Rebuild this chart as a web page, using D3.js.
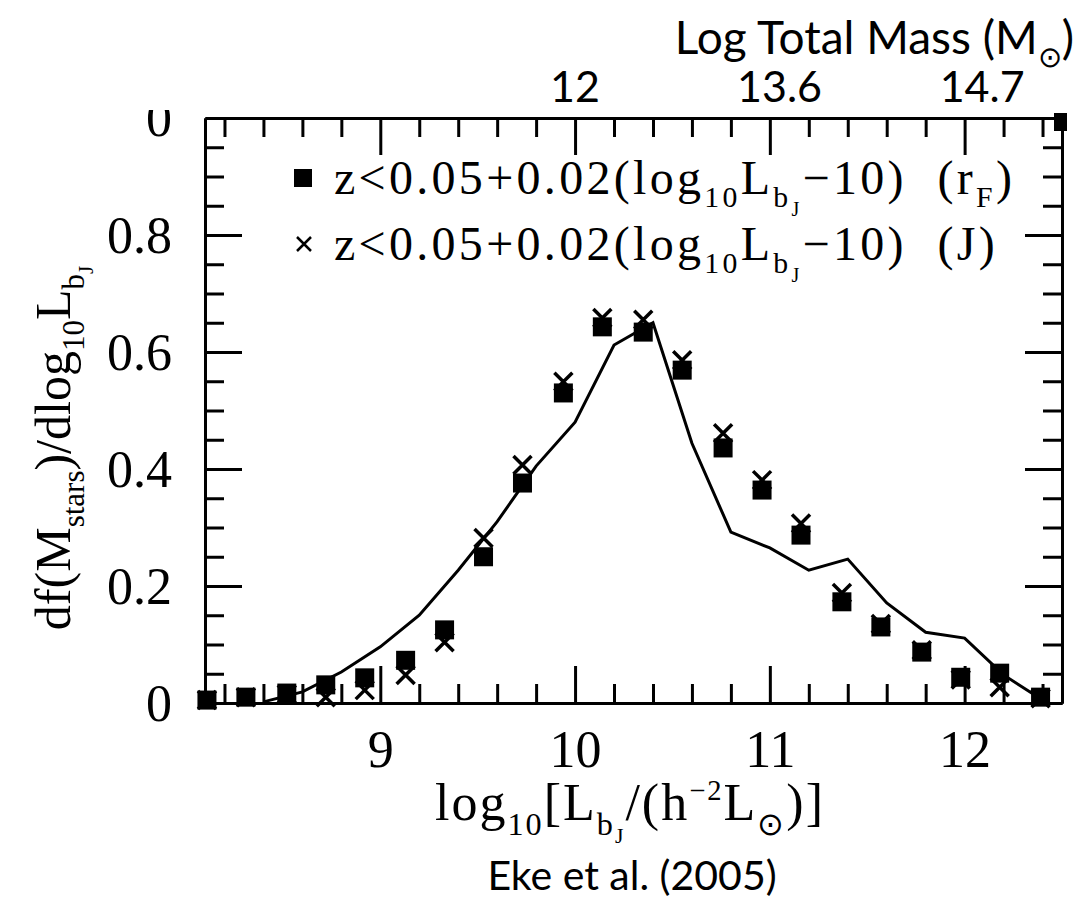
<!DOCTYPE html>
<html>
<head>
<meta charset="utf-8">
<script src="https://cdn.jsdelivr.net/npm/d3@7"></script>
<style>
  body { margin: 0; background: #fff; }
  svg { display: block; }
  .axis path, .axis line { stroke: #000; stroke-width: 3; }
  .axis text { font-family: "Liberation Serif", serif; font-size: 52px; fill: #000; }
</style>
</head>
<body>
<svg id="chart" width="1086" height="902"></svg>
<script>
// luminosity bins (log10 L_bJ) of the measured points
var lumBins = [8.11, 8.31, 8.52, 8.72, 8.92, 9.13, 9.33, 9.53, 9.73, 9.94, 10.14,
               10.35, 10.55, 10.76, 10.96, 11.16, 11.37, 11.57, 11.78, 11.98, 12.18, 12.39];
// z < 0.05+0.02(log L - 10), r_F magnitudes (filled squares)
var rfValues = [0.005, 0.010, 0.017, 0.031, 0.043, 0.073, 0.125, 0.250, 0.376, 0.530, 0.643,
                0.634, 0.569, 0.436, 0.364, 0.287, 0.173, 0.130, 0.087, 0.044, 0.051, 0.010];
// same cut, J magnitudes (crosses)
var jValues = [0.005, 0.010, 0.015, 0.010, 0.022, 0.048, 0.104, 0.282, 0.407, 0.549, 0.658,
               0.655, 0.586, 0.461, 0.381, 0.307, 0.188, 0.135, 0.090, 0.040, 0.027, 0.008];
// model curve
var modelLum = [8.4, 8.6, 8.8, 9.0, 9.2, 9.4, 9.6, 9.8, 10.0, 10.2, 10.4,
                10.6, 10.8, 11.0, 11.2, 11.4, 11.6, 11.8, 12.0, 12.2, 12.4];
var modelValues = [0.002, 0.019, 0.053, 0.096, 0.150, 0.227, 0.310, 0.405, 0.480, 0.612, 0.650,
                   0.444, 0.292, 0.265, 0.227, 0.246, 0.171, 0.121, 0.111, 0.048, 0.005];

var xMajorTicks = [9, 10, 11, 12];
var yMajorTicks = [0, 0.2, 0.4, 0.6, 0.8];
// halo mass labels on the top axis, placed at luminosity
var massLabels = ["12", "13.6", "14.7"];
var massAtLum = [10.0, 11.05, 12.09];

var svg = d3.select("#chart");

var x = d3.scaleLinear().domain([8.1, 12.5]).range([205, 1062]);
var y = d3.scaleLinear().domain([0, 1]).range([703, 118]);

var xMinor = d3.range(8.2, 12.45, 0.2).filter(function(v) {
    return Math.abs(v - Math.round(v)) > 0.01;
});
var yMinor = d3.range(0.05, 1.0, 0.05).filter(function(v) {
    return Math.abs(v * 5 - Math.round(v * 5)) > 0.01;
});

function fmtY(d) { return d === 0 ? "0" : d3.format(".1f")(d); }

// bottom
svg.append("g").attr("class", "axis").attr("transform", "translate(0," + y(0) + ")")
    .call(d3.axisBottom(x).tickValues(xMajorTicks).tickSizeInner(-37).tickSizeOuter(0).tickPadding(30).tickFormat(d3.format("d")));
svg.append("g").attr("class", "axis").attr("transform", "translate(0," + y(0) + ")")
    .call(d3.axisBottom(x).tickValues(xMinor).tickSizeInner(-19).tickSizeOuter(0).tickFormat(""));
// top
svg.append("g").attr("class", "axis").attr("transform", "translate(0," + y(1) + ")")
    .call(d3.axisTop(x).tickValues(xMajorTicks).tickSizeInner(-37).tickSizeOuter(0).tickFormat(""));
svg.append("g").attr("class", "axis").attr("transform", "translate(0," + y(1) + ")")
    .call(d3.axisTop(x).tickValues(xMinor).tickSizeInner(-19).tickSizeOuter(0).tickFormat(""));
// left
svg.append("g").attr("class", "axis").attr("transform", "translate(" + x(8.1) + ",0)")
    .call(d3.axisLeft(y).tickValues(yMajorTicks).tickSizeInner(-37).tickSizeOuter(0).tickPadding(33).tickFormat(fmtY));
svg.append("g").attr("class", "axis").attr("transform", "translate(" + x(8.1) + ",0)")
    .call(d3.axisLeft(y).tickValues(yMinor).tickSizeInner(-19).tickSizeOuter(0).tickFormat(""));
// right
svg.append("g").attr("class", "axis").attr("transform", "translate(" + x(12.5) + ",0)")
    .call(d3.axisRight(y).tickValues(yMajorTicks).tickSizeInner(-37).tickSizeOuter(0).tickFormat(""));
svg.append("g").attr("class", "axis").attr("transform", "translate(" + x(12.5) + ",0)")
    .call(d3.axisRight(y).tickValues(yMinor).tickSizeInner(-19).tickSizeOuter(0).tickFormat(""));

svg.selectAll(".axis text").attr("dy", null).attr("dominant-baseline", "central");
svg.selectAll(".axis .tick text").filter(function() { return this.textContent !== ""; })
    .each(function() {
        var t = d3.select(this);
        if (t.attr("y") !== null && +t.attr("y") > 0) t.attr("dominant-baseline", null).attr("y", 64);
    });

// model line
svg.append("path")
    .datum(modelLum.map(function(d, i) { return [d, modelValues[i]]; }))
    .attr("fill", "none").attr("stroke", "#000").attr("stroke-width", 3)
    .attr("stroke-linejoin", "miter")
    .attr("d", d3.line().x(function(d) { return x(d[0]); }).y(function(d) { return y(d[1]); }));

// crosses (J)
var cs = 9;
svg.append("g").selectAll("path").data(lumBins).enter().append("path")
    .attr("d", function(d, i) {
        var cx = x(d), cy = y(jValues[i]);
        return "M" + (cx - cs) + "," + (cy - cs) + "L" + (cx + cs) + "," + (cy + cs) +
               "M" + (cx - cs) + "," + (cy + cs) + "L" + (cx + cs) + "," + (cy - cs);
    })
    .attr("stroke", "#000").attr("stroke-width", 3.5).attr("fill", "none");

// squares (r_F)
var sq = 19;
svg.append("g").selectAll("rect").data(lumBins).enter().append("rect")
    .attr("x", function(d) { return x(d) - sq / 2; })
    .attr("y", function(d, i) { return y(rfValues[i]) - sq / 2; })
    .attr("width", sq).attr("height", sq).attr("fill", "#000");

// text with sub/superscripts
function richText(sel, parts, size) {
    var shift = 0;
    parts.forEach(function(p) {
        var lvl = p.sub || 0, sup = p.sup || 0;
        var target = lvl === 1 ? size * 0.28 : lvl === 2 ? size * 0.45 : sup ? -size * 0.38 : 0;
        var fs = lvl === 1 ? size * 0.62 : lvl === 2 ? size * 0.42 : sup ? size * 0.55 : size;
        sel.append("tspan").attr("dy", target - shift).style("font-size", fs + "px").text(p.t);
        shift = target;
    });
}

var serif = '"Liberation Serif", serif';

// legend
var legendRows = [
    { sym: "square", parts: [{t: "z<0.05+0.02(log"}, {t: "10", sub: 1}, {t: "L"}, {t: "b", sub: 1}, {t: "J", sub: 2},
                              {t: "\u221210)\u00a0\u00a0(r"}, {t: "F", sub: 1}, {t: ")"}] },
    { sym: "cross", parts: [{t: "z<0.05+0.02(log"}, {t: "10", sub: 1}, {t: "L"}, {t: "b", sub: 1}, {t: "J", sub: 2},
                             {t: "\u221210)\u00a0\u00a0(J)"}] }
];
legendRows.forEach(function(row, i) {
    var ly = 178 + i * 66;
    if (row.sym === "square") {
        svg.append("rect").attr("x", 294).attr("y", ly - 9).attr("width", 18).attr("height", 18).attr("fill", "#000");
    } else {
        svg.append("path").attr("d", "M297," + (ly - 7) + "L311," + (ly + 7) + "M297," + (ly + 7) + "L311," + (ly - 7))
            .attr("stroke", "#000").attr("stroke-width", 2.5);
    }
    var t = svg.append("text").attr("x", 334).attr("y", ly + 16)
        .style("font-family", serif).style("font-size", "48px").style("letter-spacing", "3.3px");
    richText(t, row.parts, 48);
});

// x title
var xt = svg.append("text").attr("x", 630).attr("y", 820).attr("text-anchor", "middle")
    .style("font-family", serif).style("font-size", "52px").style("letter-spacing", "2px");
richText(xt, [{t: "log"}, {t: "10", sub: 1}, {t: "[L"}, {t: "b", sub: 1}, {t: "J", sub: 2}, {t: "/(h"},
              {t: "\u22122", sup: 1}, {t: "L"}, {t: "\u2299", sub: 1}, {t: ")]"}], 52);

// y title
var yt = svg.append("text").attr("transform", "translate(70,448) rotate(-90)").attr("text-anchor", "middle")
    .style("font-family", serif).style("font-size", "50px");
richText(yt, [{t: "df(M"}, {t: "stars", sub: 1}, {t: ")/dlog"}, {t: "10", sub: 1}, {t: "L"},
              {t: "b", sub: 1}, {t: "J", sub: 2}], 50);

// white cover over the top of the original frame
svg.append("rect").attr("x", 0).attr("y", 0).attr("width", 1086).attr("height", 110).attr("fill", "#fff");
svg.insert("clipPath", ":first-child").attr("id", "below").append("rect")
    .attr("x", 0).attr("y", 110).attr("width", 1086).attr("height", 800);
svg.append("text").attr("x", 172).attr("y", y(1)).attr("text-anchor", "end").attr("dominant-baseline", "central")
    .attr("clip-path", "url(#below)")
    .style("font-family", serif).style("font-size", "52px").text("0");
// clipped corner marker left over at the top right of the frame
svg.append("rect").attr("x", x(12.5) - 8).attr("y", y(1) - 5).attr("width", 13).attr("height", 18).attr("fill", "#000");

// top mass axis labels
var sans = 'Lato, "Open Sans", sans-serif';
svg.append("g").selectAll("text").data(massLabels).enter().append("text")
    .attr("x", function(d, i) { return x(massAtLum[i]); })
    .attr("y", 102).attr("text-anchor", "middle")
    .style("font-family", sans).style("font-size", "43px").text(function(d) { return d; });

var mt = svg.append("text").attr("x", 1074).attr("y", 54).attr("text-anchor", "end")
    .style("font-family", sans).style("font-size", "46px");
richText(mt, [{t: "Log Total Mass (M"}, {t: "\u2299", sub: 1}, {t: ")"}], 46);

svg.append("text").attr("x", 632).attr("y", 890).attr("text-anchor", "middle")
    .style("font-family", sans).style("font-size", "41px").text("Eke et al. (2005)");
</script>
</body>
</html>
